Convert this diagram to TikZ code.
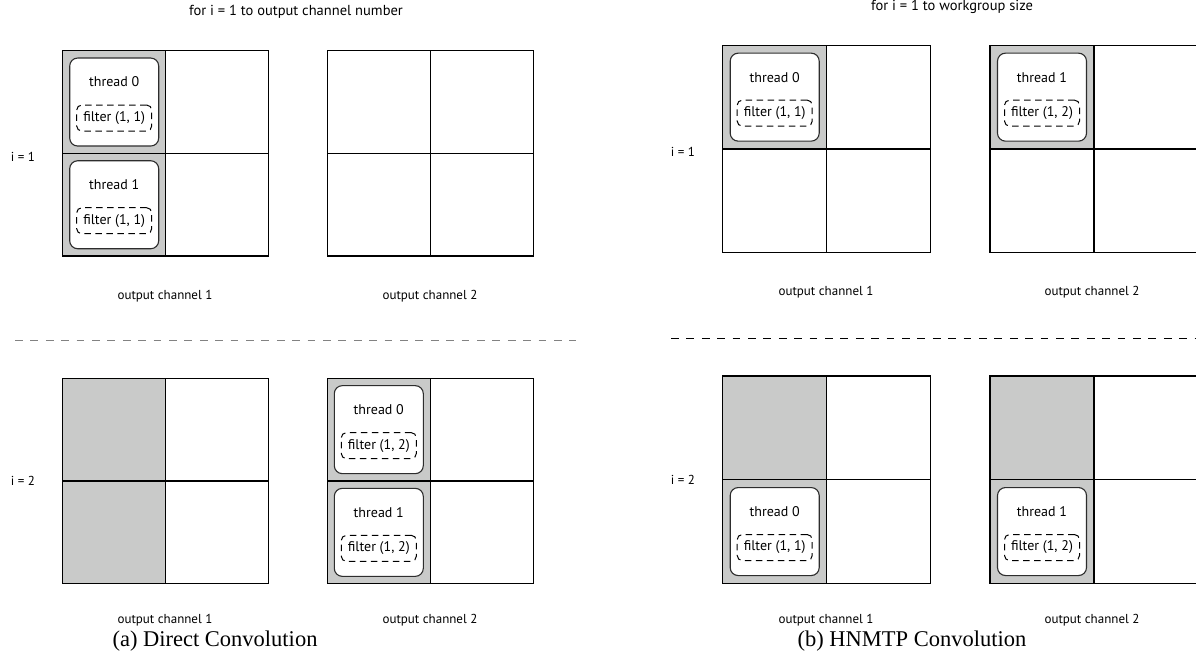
\documentclass[tikz,border=0pt]{standalone}
\usepackage{fontspec}
\setmainfont{Liberation Serif}
\newfontfamily\labfont{PT Sans}
\definecolor{shadecol}{RGB}{201,202,201}
\definecolor{tbord}{RGB}{45,45,45}
\definecolor{sepgray}{RGB}{130,130,130}
\tikzset{
  cell/.style={fill=white, anchor=north west, inner sep=0pt, outer sep=0pt},
  gridline/.style={draw=black, line width=1.2pt},
  shaded/.style={fill=shadecol},
  thread/.style={draw=tbord, line width=1.1pt, rounded corners=8pt, fill=white, minimum width=89pt, minimum height=88pt, inner sep=0pt},
  lab/.style={font=\labfont\fontsize{13}{15}\selectfont, inner sep=0pt},
  titlelab/.style={font=\labfont\fontsize{14.5}{17}\selectfont, inner sep=0pt},
  thlab/.style={font=\labfont\fontsize{14}{16}\selectfont, inner sep=0pt},
  filt/.style={draw=black, line width=1pt, dash pattern=on 6.5pt off 4.5pt, rounded corners=5pt, minimum width=75pt, minimum height=26pt, inner sep=0pt, font=\labfont\fontsize{14}{16}\selectfont},
  captxt/.style={font=\fontsize{22.5}{26}\selectfont, inner sep=0pt},
  sepline/.style={line width=1pt, dash pattern=on 7.7pt off 7.7pt}
}
\newcommand\mygrid[7]{%
  \node[cell,#6,minimum width=#4pt,minimum height=#5pt] (#1a) at (#2,#3) {};
  \node[cell,minimum width=#4pt,minimum height=#5pt] (#1b) at (#2+#4,#3) {};
  \node[cell,#7,minimum width=#4pt,minimum height=#5pt] (#1c) at (#2,#3+#5) {};
  \node[cell,minimum width=#4pt,minimum height=#5pt] (#1d) at (#2+#4,#3+#5) {};
  \draw[gridline] (#1a.north west) rectangle (#1d.south east);
  \draw[gridline] (#1a.north east) -- (#1c.south east);
  \draw[gridline] (#1a.south west) -- (#1b.south east);
}
\newcommand\mythread[4]{%
  \node[thread] (#1) at (#2.center) {};
  \node[thlab] (#1t) at ([yshift=20pt]#1.center) {#3};
  \node[filt] (#1f) at ([yshift=-16pt]#1.center) {#4};
}
\begin{document}
\begin{tikzpicture}[x=1pt,y=-1pt]
\fill[white] (0,0) rectangle (1196,660);
\useasboundingbox (0,0) rectangle (1196,660);

% ---------- (a) Direct Convolution ----------
\node[titlelab] (titleA) at (296,12) {for i = 1 to output channel number};
\node[lab] (iA1) at (23,157) {i = 1};
\node[lab] (iA2) at (23,481) {i = 2};

\mygrid{A1}{62.7}{50.7}{103}{102.7}{shaded}{shaded}
\mygrid{A2}{327.3}{50.7}{103}{102.7}{}{}
\mygrid{A3}{62.3}{378.3}{103.2}{102.7}{shaded}{shaded}
\mygrid{A4}{327.3}{378.3}{103}{102.7}{shaded}{shaded}

\mythread{tA1}{A1a}{thread 0}{filter (1, 1)}
\mythread{tA2}{A1c}{thread 1}{filter (1, 1)}
\mythread{tA3}{A4a}{thread 0}{filter (1, 2)}
\mythread{tA4}{A4c}{thread 1}{filter (1, 2)}

\node[lab] (ocA1) at (165,296) {output channel 1};
\node[lab] (ocA2) at (430,296) {output channel 2};
\node[lab] (ocA3) at (165,620) {output channel 1};
\node[lab] (ocA4) at (430,620) {output channel 2};

\coordinate (sepAl) at (15,340);
\coordinate (sepAr) at (576,340);
\draw[sepline, draw=sepgray] (sepAl) -- (sepAr);

\node[captxt] (capA) at (215,641) {(a) Direct Convolution};

% ---------- (b) HNMTP Convolution ----------
\node[titlelab] (titleB) at (952,7) {for i = 1 to workgroup size};
\node[lab] (iB1) at (683,152) {i = 1};
\node[lab] (iB2) at (683,480) {i = 2};

\mygrid{B1}{722.7}{45.3}{104}{103.7}{shaded}{}
\mygrid{B2}{990}{45.3}{104}{103.7}{shaded}{}
\mygrid{B3}{722.7}{376}{104}{103.7}{shaded}{shaded}
\mygrid{B4}{990}{376}{104}{103.7}{shaded}{shaded}

\mythread{tB1}{B1a}{thread 0}{filter (1, 1)}
\mythread{tB2}{B2a}{thread 1}{filter (1, 2)}
\mythread{tB3}{B3c}{thread 0}{filter (1, 1)}
\mythread{tB4}{B4c}{thread 1}{filter (1, 2)}

\node[lab] (ocB1) at (826,292) {output channel 1};
\node[lab] (ocB2) at (1092,292) {output channel 2};
\node[lab] (ocB3) at (826,620) {output channel 1};
\node[lab] (ocB4) at (1092,620) {output channel 2};

\coordinate (sepBl) at (671,338);
\coordinate (sepBr) at (1200,338);
\draw[sepline, draw=black] (sepBl) -- (sepBr);

\node[captxt] (capB) at (912,641) {(b) HNMTP Convolution};
\end{tikzpicture}
\end{document}
